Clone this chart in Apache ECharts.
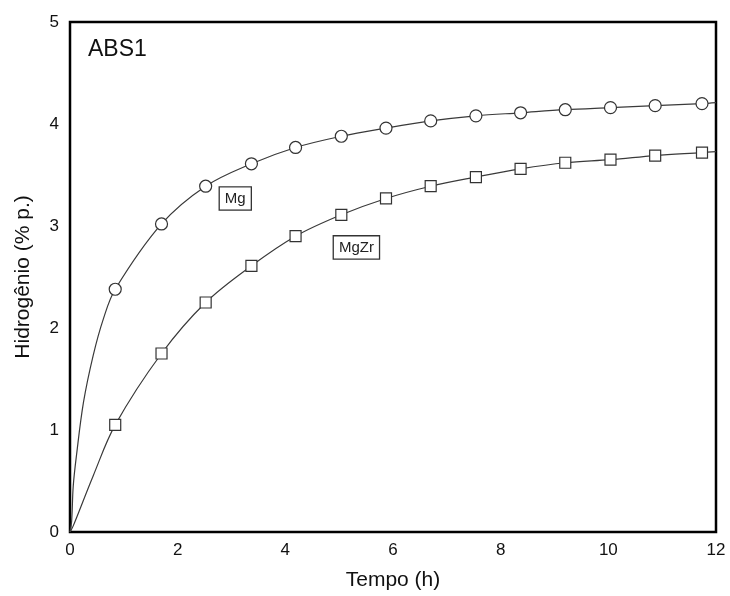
<!DOCTYPE html>
<html>
<head>
<meta charset="utf-8">
<script src="https://cdn.jsdelivr.net/npm/echarts@6/dist/echarts.min.js"></script>
<style>html,body{margin:0;padding:0;background:#fff}#c{width:730px;height:596px}</style>
</head>
<body>
<div id="c"></div>
<script>
// Marker times (h)
const markerTimes = [0.84, 1.70, 2.52, 3.37, 4.19, 5.04, 5.87, 6.70, 7.54, 8.37, 9.20, 10.04, 10.87, 11.74];
// Hydrogen (% p.) at markers
const mgValues   = [2.38, 3.02, 3.39, 3.61, 3.77, 3.88, 3.96, 4.03, 4.08, 4.11, 4.14, 4.16, 4.18, 4.20];
const mgzrValues = [1.05, 1.75, 2.25, 2.61, 2.90, 3.11, 3.27, 3.39, 3.48, 3.56, 3.62, 3.65, 3.69, 3.72];
// Fitted curve readings from the picture
const mgCurveTimes = [0, 0.03, 0.06, 0.12, 0.25, 0.43, 0.62];
const mgCurveVals  = [0, 0.10, 0.45, 0.75, 1.27, 1.73, 2.09];
const mgzrCurveTimes = [0, 0.06, 0.43];
const mgzrCurveVals  = [0, 0.06, 0.55];
const endTime = 12;
const mgEnd = 4.21, mgzrEnd = 3.73;
const xTicks = [0, 2, 4, 6, 8, 10, 12];
const yTicks = [0, 1, 2, 3, 4, 5];
const labels = [
  {name: 'Mg', coord: [3.07, 3.27]},
  {name: 'MgZr', coord: [5.32, 2.79]}
];

const pairs = (t, v) => t.map((x, i) => [x, v[i]]);
const mgLine = pairs(mgCurveTimes, mgCurveVals).concat(pairs(markerTimes, mgValues), [[endTime, mgEnd]]);
const mgzrLine = pairs(mgzrCurveTimes, mgzrCurveVals).concat(pairs(markerTimes, mgzrValues), [[endTime, mgzrEnd]]);

const chart = echarts.init(document.getElementById('c'));
const font = 'Liberation Sans, Arial, sans-serif';
const lineColor = '#3a3a3a';
const boxLabel = {show: true, formatter: '{c}', fontFamily: font, fontSize: 15, color: '#222', backgroundColor: '#fff', borderColor: '#333', borderWidth: 1.3, padding: [4, 5, 3, 5]};
chart.setOption({
  animation: false,
  backgroundColor: '#fff',
  grid: {left: 70, right: 14, top: 22, bottom: 64, show: true, borderColor: '#000', borderWidth: 2.5, backgroundColor: 'transparent'},
  title: {text: 'ABS1', left: 83, top: 33, textStyle: {fontFamily: font, fontSize: 23, fontWeight: 'normal', color: '#111'}},
  xAxis: {
    type: 'value', min: 0, max: 12, interval: 2,
    name: 'Tempo (h)', nameLocation: 'middle', nameGap: 38,
    nameTextStyle: {fontFamily: font, fontSize: 21, color: '#111'},
    axisLine: {show: false}, axisTick: {show: false}, splitLine: {show: false},
    axisLabel: {fontFamily: font, fontSize: 17, color: '#111', margin: 10}
  },
  yAxis: {
    type: 'value', min: 0, max: 5, interval: 1,
    name: 'Hidrogênio (% p.)', nameLocation: 'middle', nameGap: 36,
    nameTextStyle: {fontFamily: font, fontSize: 21, color: '#111'},
    axisLine: {show: false}, axisTick: {show: false}, splitLine: {show: false},
    axisLabel: {fontFamily: font, fontSize: 17, color: '#111', margin: 11}
  },
  series: [
    {type: 'line', data: mgLine, smooth: 0.35, showSymbol: false, symbol: 'none',
     lineStyle: {color: lineColor, width: 1.2}, z: 2,
     markPoint: {symbol: 'rect', symbolSize: 0, data: [{coord: labels[0].coord, value: labels[0].name}], label: boxLabel}},
    {type: 'line', data: mgzrLine, smooth: 0.35, showSymbol: false, symbol: 'none',
     lineStyle: {color: lineColor, width: 1.2}, z: 2,
     markPoint: {symbol: 'rect', symbolSize: 0, data: [{coord: labels[1].coord, value: labels[1].name}], label: boxLabel}},
    {type: 'scatter', data: pairs(markerTimes, mgValues), symbol: 'circle', symbolSize: 12,
     itemStyle: {color: '#fff', borderColor: '#333', borderWidth: 1.2, opacity: 1}, z: 3},
    {type: 'scatter', data: pairs(markerTimes, mgzrValues), symbol: 'rect', symbolSize: 11,
     itemStyle: {color: '#fff', borderColor: '#333', borderWidth: 1.2, opacity: 1}, z: 3}
  ]
});
</script>
</body>
</html>
